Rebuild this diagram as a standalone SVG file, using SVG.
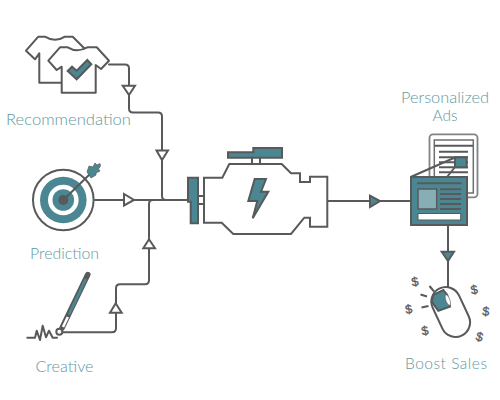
<svg xmlns="http://www.w3.org/2000/svg" width="500" height="400" viewBox="0 0 500 400">
<style>
.l{fill:none;stroke:#58595b;stroke-width:2;stroke-linejoin:round;stroke-linecap:round}
.w{fill:#fff;stroke:#58595b;stroke-width:2;stroke-linejoin:miter}
.t{fill:#4b8792;stroke:#58595b;stroke-width:2;stroke-linejoin:miter}
.k{stroke:#58595b;stroke-width:2;fill:none}
.lb{font-family:"Lato","Noto Sans",sans-serif;font-weight:300;font-size:15.500px;fill:#5f98a0;text-anchor:middle}
.d{font-family:"Liberation Sans",sans-serif;font-size:12.500px;fill:#58595b;text-anchor:middle;stroke:#58595b;stroke-width:.3}
</style>
<g id="connectors">
<path class="l" d="M109 64.500H125Q129 64.500 129 68.500V108.500Q129 112.500 133 112.500H158Q162 112.500 162 116.500V196Q162 200 166 200"/>
<path class="l" d="M95 200H188"/>
<path class="l" d="M62.700 332.300H112Q116 332.300 116 328.300V288.300Q116 284.300 120 284.300H145Q149 284.300 149 280.300V204Q149 200 153 200"/>
<path class="l" d="M327 201H411"/>
<path class="l" d="M448 225V288"/>
<polygon class="w" points="122.700,85.700 135,85.700 129,95"/>
<polygon class="w" points="156.500,150.500 168,150.500 162,160"/>
<polygon class="w" points="124,194 124,205.500 134,200"/>
<polygon class="w" points="149,239.300 143.300,248.300 155,248.300"/>
<polygon class="w" points="115.700,303.300 110,312.700 121.700,312.700"/>
<polygon class="t" points="370,195.700 370,207 380,201"/>
<polygon class="t" points="441.700,251.700 454,251.700 448,261"/>
</g>
<g id="recommendation">
<path class="l" d="M39.300 82.700V53.300L35 59.300 26 50.700 38.300 36.700H45Q55 43 65 36.700H72.700L85 49M39.300 82.700H61.700"/>
<path class="l" style="fill:#fff" d="M61.700 92.700V66.700L56.700 70 48.300 60.700 60 47.300H67.700Q77 53 87.300 47.300H96.700L109 60.700 101 69 95.700 65V92.700Z"/>
<polygon class="t" points="67.700,71 72,66.700 76.700,70.700 87.300,60 91.300,64.300 76.700,79.300"/>
<text class="lb" x="68.500" y="125" textLength="125" lengthAdjust="spacingAndGlyphs">Recommendation</text>
</g>
<g id="prediction">
<circle class="w" cx="63.300" cy="200" r="30.300"/>
<circle cx="63.300" cy="200" r="23.300" fill="#4b8792"/>
<circle cx="63.300" cy="200" r="15.300" fill="#fff"/>
<circle cx="63.300" cy="200" r="10.800" fill="#4b8792"/>
<circle cx="63.300" cy="200" r="5" fill="#58595b"/>
<path class="k" d="M63.300 200L90 174"/>
<polygon points="87,172 89,166 93,167 95,163 97,165 100,163.500 100.500,166 98.500,169 100,171 96,173 96,175 91,178" fill="#4b8792" stroke="#58595b" stroke-width=".7"/>
<text class="lb" x="64.500" y="259" textLength="69" lengthAdjust="spacingAndGlyphs">Prediction</text>
</g>
<g id="creative">
<path class="l" d="M27.300 337.700H35L36.700 330.700 40 340 42.700 325.700 46 337.300 49 330.700 52.700 337.700H57"/>
<path d="M62 328L87.800 274.500" fill="none" stroke="#58595b" stroke-width="5.500" stroke-linecap="round"/>
<path d="M69 314.500L85.800 279" fill="none" stroke="#4b8792" stroke-width="2.800"/>
<path d="M63 327L67.800 317" fill="none" stroke="#fff" stroke-width="2.500"/>
<circle class="w" cx="59.300" cy="331.700" r="3"/>
<text class="lb" x="64.500" y="372" textLength="58" lengthAdjust="spacingAndGlyphs">Creative</text>
</g>
<g id="engine">
<path class="k" d="M198 196H204M198 204H204M252 157.700V164M260 157.700V164"/>
<polygon class="w" points="204,177.700 222.300,177.700 229.300,164 281.700,164 291,173.300 300,173.300 300,182 310,182 310,176.700 327.300,176.700 327.300,226.700 310,226.700 310,217.700 304.300,217.700 291,234 233.300,234 221.700,222.700 204,222.700"/>
<polygon class="t" points="188,177.700 198,177.700 198,223.300 190.700,223.300 190.700,201.700 188,201.700"/>
<polygon class="t" points="228,152.300 253.300,152.300 253.300,148 282,148 282,157.700 228,157.700"/>
<polygon class="t" points="254.700,179 266,179 261,191.700 268.300,191.700 252.700,218.300 257.300,201 248.300,201"/>
</g>
<g id="ads">
<rect x="429.500" y="134.300" width="48" height="63" rx="3.500" fill="#fff" stroke="#808285" stroke-width="1.800"/>
<rect x="434.300" y="140" width="39" height="53" fill="#fff" stroke="#6d6e71" stroke-width="1.500"/>
<path class="k" d="M434.500 145.700H473M439 151.700H468M439 157.300H468M439 162.300H468M439 167.300H468M439 172.300H468"/>
<path class="k" d="M410.700 177L455 157.500M447 177L455 167"/>
<rect class="t" x="455" y="157.300" width="11.700" height="10"/>
<rect x="411" y="177" width="56" height="48" fill="#4b8792" stroke="#58595b" stroke-width="2"/>
<rect x="418" y="189" width="18.700" height="20" fill="#86aeb4" stroke="#58595b" stroke-width="1.500"/>
<path class="k" d="M417 183.300H461.500M440 189.300H461M440 194H461M440 199H461M440 204H461M440 209H461"/>
<rect x="418" y="213.500" width="42.700" height="6.500" fill="#fff" stroke="#58595b" stroke-width="1"/>
<text class="lb" x="445" y="103" textLength="88" lengthAdjust="spacingAndGlyphs">Personalized</text>
<text class="lb" x="445" y="121" textLength="25" lengthAdjust="spacingAndGlyphs">Ads</text>
</g>
<g id="sales">
<rect x="436.200" y="286" width="29" height="52" rx="14.500" transform="rotate(-25 450.700 312)" fill="#fff" stroke="#58595b" stroke-width="2"/>
<polygon points="431.700,301.700 433.300,295 443.300,290 447.300,295 450,306.700 438.300,310.700" class="t"/>
<ellipse cx="447.800" cy="300" rx="2" ry="5.500" transform="rotate(-20 447.800 300)" fill="#fff" stroke="#58595b" stroke-width=".6"/>
<path class="k" d="M429.500 286L434 291.500M420.500 294.500L427 296.500M421.500 307.500L428.500 306"/>
<text class="d" transform="translate(415.700 286) rotate(-10)">$</text>
<text class="d" transform="translate(409.500 313.500) rotate(-10)">$</text>
<text class="d" transform="translate(425.700 335) rotate(-10)">$</text>
<text class="d" transform="translate(475 294) rotate(-10)">$</text>
<text class="d" transform="translate(485.500 315.500) rotate(5)">$</text>
<text class="d" transform="translate(478.300 341) rotate(15)">$</text>
<text class="lb" x="446" y="369" textLength="82" lengthAdjust="spacing">Boost Sales</text>
</g>
</svg>
